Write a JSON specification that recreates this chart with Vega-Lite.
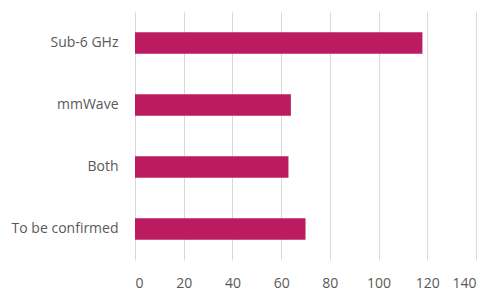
{
  "$schema": "https://vega.github.io/schema/vega-lite/v6.json",
  "autosize": "none",
  "width": 341,
  "height": 248,
  "padding": {"left": 135, "top": 12, "right": 24, "bottom": 37},
  "background": "#ffffff",
  "config": {"view": {"stroke": null}, "font": "Open Sans"},
  "data": {"values": [
    {"category": "Sub-6 GHz", "value": 118},
    {"category": "mmWave", "value": 64},
    {"category": "Both", "value": 63},
    {"category": "To be confirmed", "value": 70}
  ]},
  "mark": {"type": "bar", "color": "#BD1B5F"},
  "encoding": {
    "y": {
      "field": "category", "type": "nominal", "sort": null, "title": null,
      "scale": {"paddingInner": 0.65, "paddingOuter": 0.325},
      "axis": {"domain": false, "ticks": false, "labelPadding": 17, "labelFontSize": 14, "labelColor": "#595959", "labelFont": "Open Sans"}
    },
    "x": {
      "field": "value", "type": "quantitative", "title": null,
      "scale": {"domain": [0, 140], "nice": false},
      "axis": {"values": [0, 20, 40, 60, 80, 100, 120, 140], "domain": false, "ticks": false, "labelPadding": 16, "labelFontSize": 14, "labelColor": "#595959", "gridColor": "#d9d9d9", "gridWidth": 1, "labelFont": "Open Sans"}
    }
  }
}
